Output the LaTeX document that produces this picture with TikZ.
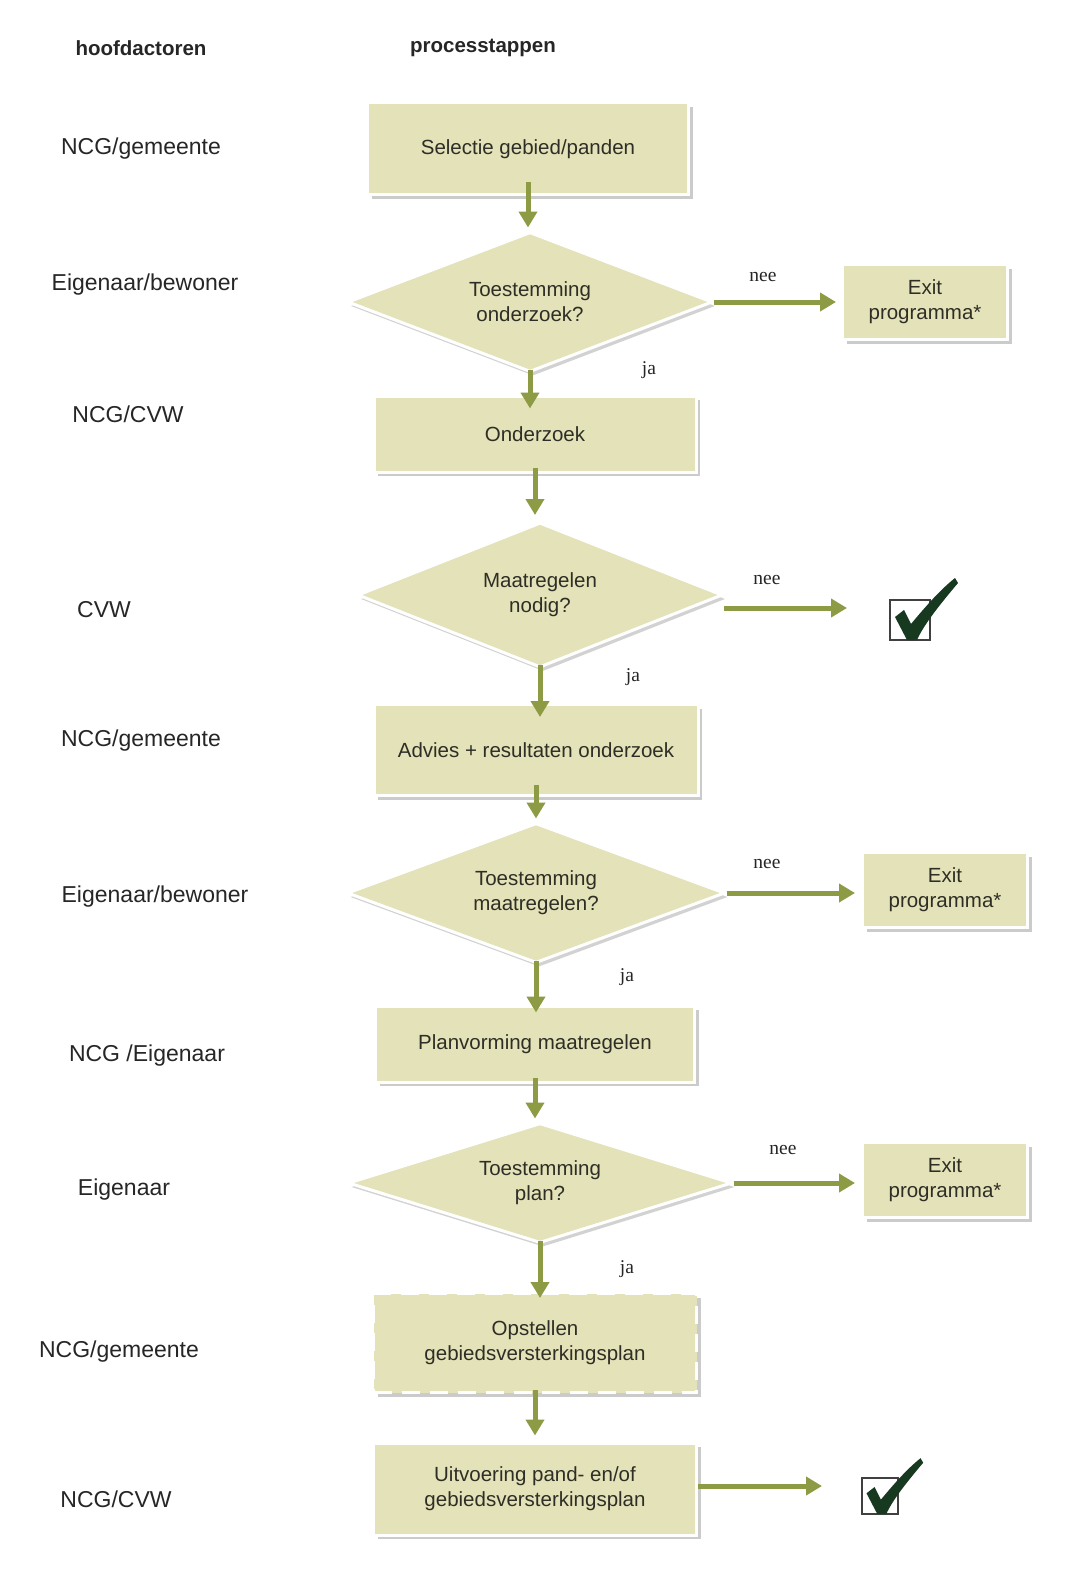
\documentclass[tikz,border=0pt]{standalone}
\usepackage{fontspec}
\setmainfont{Liberation Sans}
\newfontfamily\serifnee{Liberation Serif}
\usetikzlibrary{arrows.meta,shapes.geometric,shadows}
\definecolor{boxfill}{HTML}{E4E2B8}
\definecolor{arrowgreen}{HTML}{8E9B45}
\definecolor{boxtext}{HTML}{2E2E26}
\definecolor{checkgreen}{HTML}{17391F}
\tikzset{
  every node/.style={inner sep=0pt},
  procbox/.style={rectangle, fill=boxfill, draw=white, line width=3pt,
    drop shadow={shadow xshift=4pt, shadow yshift=-4pt, fill=black!40},
    text=boxtext, align=center, font=\fontsize{20.5}{25}\selectfont},
  decision/.style={diamond, aspect=2.6, fill=boxfill, draw=white, line width=3pt,
    drop shadow={shadow xshift=3pt, shadow yshift=-4pt, fill=black!35},
    text=boxtext, align=center, font=\fontsize{20.5}{25}\selectfont},
  actor/.style={font=\fontsize{23}{27}\selectfont, text=black!85},
  header/.style={font=\bfseries\fontsize{20.5}{24}\selectfont, text=black!85},
  flowlabel/.style={font=\serifnee\fontsize{19.5}{23}\selectfont, text=black!85},
  flow/.style={draw=arrowgreen, line width=5pt, -{Triangle[length=16pt,width=18pt]}},
  chkbox/.style={rectangle, draw=black!75, line width=2pt, fill=white},
}
\newcommand{\mychk}[3]{% x, y (top-left of box), scale
  \begin{scope}[shift={(#1,#2)}, scale=#3]
    \fill[checkgreen] (5,17) -- (14,10) -- (21,24)
      .. controls (36,6) and (50,-10) .. (65,-22)
      -- (68,-17) .. controls (52,2) and (34,24) .. (27,40)
      -- (17,40) -- cycle;
  \end{scope}}
\begin{document}
\begin{tikzpicture}[x=1pt, y=-1pt]
\useasboundingbox[fill=white] (0,0) rectangle (1080,1573);

% headers
\node[header] (h1) at (141,48) {hoofdactoren};
\node[header] (h2) at (483,48) {processtappen};

% actors
\node[actor] (a1) at (141,149) {NCG/gemeente};
\node[actor] (a2) at (145,285) {Eigenaar/bewoner};
\node[actor] (a3) at (128,414) {NCG/CVW};
\node[actor] (a4) at (104,610) {CVW};
\node[actor] (a5) at (141,741) {NCG/gemeente};
\node[actor] (a6) at (155,897) {Eigenaar/bewoner};
\node[actor] (a7) at (147,1056) {NCG /Eigenaar};
\node[actor] (a8) at (124,1190) {Eigenaar};
\node[actor] (a9) at (119,1352) {NCG/gemeente};
\node[actor] (a10) at (116,1499) {NCG/CVW};

% process
\node[procbox, minimum width=321pt, minimum height=92pt] (b1) at (528,149) {Selectie gebied/panden};
\node[decision, minimum width=365pt, minimum height=140pt] (d1) at (530,302) {Toestemming\\onderzoek?};
\node[procbox, minimum width=165pt, minimum height=75pt] (e1) at (925,302) {Exit\\programma*};
\node[procbox, minimum width=322pt, minimum height=76pt] (b2) at (535,434) {Onderzoek};
\node[decision, minimum width=365pt, minimum height=145pt] (d2) at (540,595) {Maatregelen\\nodig?};
\node[procbox, minimum width=324pt, minimum height=91pt] (b3) at (536,750) {Advies + resultaten onderzoek};
\node[decision, minimum width=378pt, minimum height=140pt] (d3) at (536,893) {Toestemming\\maatregelen?};
\node[procbox, minimum width=165pt, minimum height=75pt] (e2) at (945,890) {Exit\\programma*};
\node[procbox, minimum width=319pt, minimum height=76pt] (b4) at (535,1044) {Planvorming maatregelen};
\node[decision, aspect=3.2, minimum width=384pt, minimum height=120pt] (d4) at (540,1183) {Toestemming\\plan?};
\node[procbox, minimum width=165pt, minimum height=75pt] (e3) at (945,1180) {Exit\\programma*};
\node[procbox, dashed, dash pattern=on 18pt off 10pt, minimum width=323pt, minimum height=99pt] (b5) at (535,1343) {Opstellen\\gebiedsversterkingsplan};
\node[procbox, minimum width=323pt, minimum height=92pt] (b6) at (535,1489) {Uitvoering pand- en/of\\gebiedsversterkingsplan};

% check boxes
\node[chkbox, minimum width=40pt, minimum height=40pt] (k1) at (910,620) {};
\mychk{890}{600}{1}
\node[chkbox, minimum width=36pt, minimum height=36pt] (k2) at (880,1496) {};
\mychk{862}{1478}{0.9}
\coordinate (k1in) at (847,608);
\coordinate (k2in) at (822,1486);

% vertical flow
\draw[flow] ([yshift=14pt]b1.south) -- ([yshift=3pt]b1.south |- d1.north);
\draw[flow] ([yshift=4pt]d1.south) -- ([yshift=-14pt]d1.south |- b2.north);
\draw[flow] ([yshift=6pt]b2.south) -- ([yshift=6pt]b2.south |- d2.north);
\draw[flow] ([yshift=4pt]d2.south) -- ([yshift=-14pt]d2.south |- b3.north);
\draw[flow] ([yshift=12pt]b3.south) -- ([yshift=3pt]b3.south |- d3.north);
\draw[flow] ([yshift=4pt]d3.south) -- ([yshift=-8pt]d3.south |- b4.north);
\draw[flow] ([yshift=6pt]b4.south) -- ([yshift=3pt]b4.south |- d4.north);
\draw[flow] ([yshift=4pt]d4.south) -- ([yshift=-6pt]d4.south |- b5.north);
\draw[flow] ([yshift=4pt]b5.south) -- ([yshift=6pt]b5.south |- b6.north);

% horizontal flow
\draw[flow] (d1.east) -- ([xshift=-5pt]e1.west);
\draw[flow] ([yshift=-13pt]d2.east) -- (k1in);
\draw[flow] (d3.east) -- ([xshift=-6pt]e2.west |- d3.east);
\draw[flow] (d4.east) -- ([xshift=-6pt]e3.west |- d4.east);
\draw[flow] ([yshift=3pt]b6.east) -- (k2in);

% labels
\node[flowlabel] (n1) at (763,277) {nee};
\node[flowlabel] (n2) at (767,580) {nee};
\node[flowlabel] (n3) at (767,864) {nee};
\node[flowlabel] (n4) at (783,1150) {nee};
\node[flowlabel] (j1) at (649,370) {ja};
\node[flowlabel] (j2) at (633,677) {ja};
\node[flowlabel] (j3) at (627,977) {ja};
\node[flowlabel] (j4) at (627,1269) {ja};
\end{tikzpicture}
\end{document}
